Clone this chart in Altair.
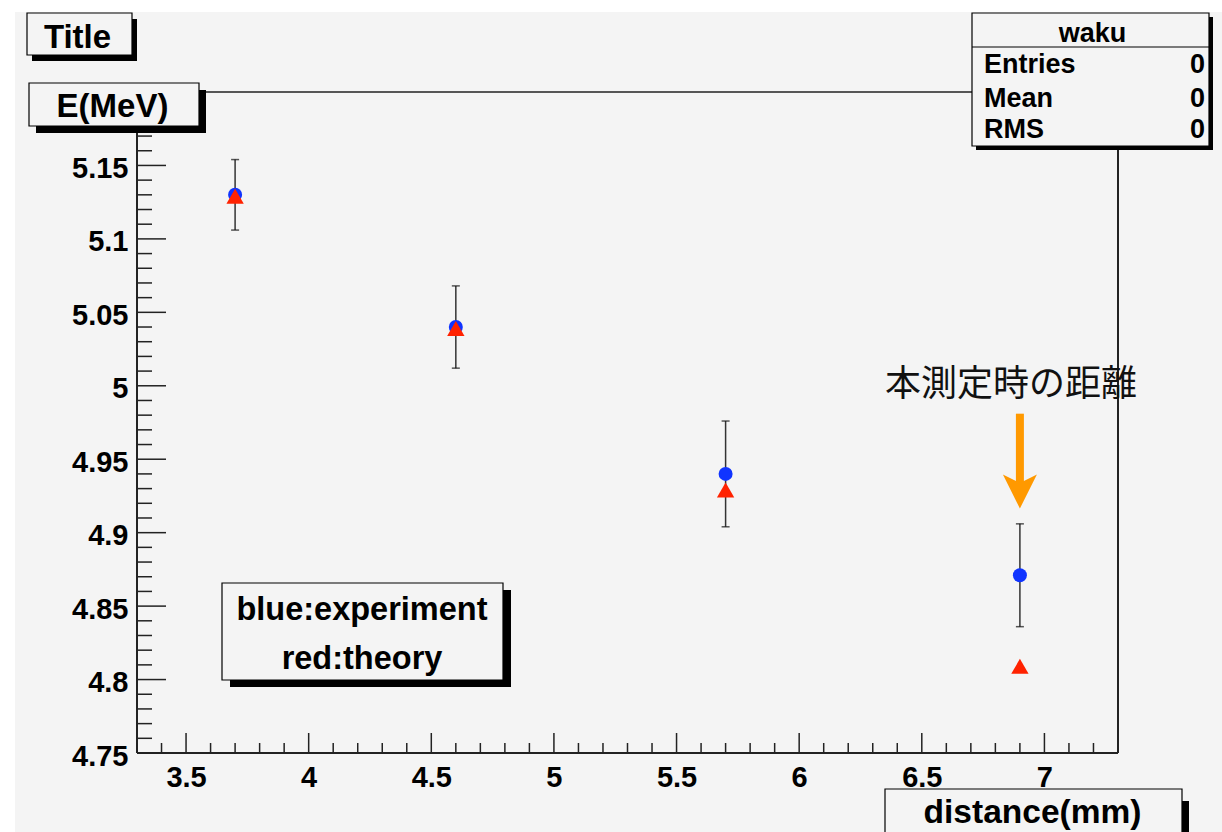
import altair as alt
import pandas as pd

# ---- data ----
distance = [3.7, 4.6, 5.7, 6.9]
experiment = [5.130, 5.040, 4.940, 4.871]
exp_error = [0.024, 0.028, 0.036, 0.035]
theory = [5.129, 5.039, 4.929, 4.809]

x_major = [3.5, 4.0, 4.5, 5.0, 5.5, 6.0, 6.5, 7.0]
x_minor = [3.3, 3.4, 3.6, 3.7, 3.8, 3.9, 4.1, 4.2, 4.3, 4.4, 4.6, 4.7, 4.8, 4.9,
           5.1, 5.2, 5.3, 5.4, 5.6, 5.7, 5.8, 5.9, 6.1, 6.2, 6.3, 6.4, 6.6, 6.7,
           6.8, 6.9, 7.1, 7.2]
y_major = [4.75, 4.8, 4.85, 4.9, 4.95, 5.0, 5.05, 5.1, 5.15]
y_minor = [4.76, 4.77, 4.78, 4.79, 4.81, 4.82, 4.83, 4.84, 4.86, 4.87, 4.88, 4.89,
           4.91, 4.92, 4.93, 4.94, 4.96, 4.97, 4.98, 4.99, 5.01, 5.02, 5.03, 5.04,
           5.06, 5.07, 5.08, 5.09, 5.11, 5.12, 5.13, 5.14, 5.16, 5.17, 5.18, 5.19]

# annotation arrow (data coordinates)
arrow_x = [6.9]
arrow_top = [4.981]
arrow_bottom = [4.930]
arrow_head = [4.928]

W, H = 981, 661
FONT = "Liberation Sans"
BG = "#f4f4f4"
LINE = "#222222"

df = pd.DataFrame({"x": distance, "exp": experiment, "err": exp_error, "th": theory})
df["lo"] = df["exp"] - df["err"]
df["hi"] = df["exp"] + df["err"]
arrow_df = pd.DataFrame({"x": arrow_x, "top": arrow_top, "bottom": arrow_bottom, "head": arrow_head})
one = pd.DataFrame({"k": [0]})

xscale = alt.Scale(domain=[3.3, 7.3], nice=False, zero=False)
yscale = alt.Scale(domain=[4.75, 5.2], nice=False, zero=False)
xaxis = alt.Axis(values=x_major, format="~g", ticks=False, tickSize=0, domain=False, grid=False,
                 labelFont=FONT, labelFontWeight="bold", labelFontSize=29, labelColor="#000",
                 labelPadding=10, labelOverlap=False, labelFlush=False, title=None, zindex=2)
yaxis = alt.Axis(values=y_major, format="~g", ticks=False, tickSize=0, domain=False, grid=False,
                 labelFont=FONT, labelFontWeight="bold", labelFontSize=29, labelColor="#000",
                 labelPadding=9, labelOffset=3, labelOverlap=False, labelFlush=False, title=None,
                 zindex=2)


def X(f):
    return alt.X(f, type="quantitative", scale=xscale, axis=xaxis)


def Y(f):
    return alt.Y(f, type="quantitative", scale=yscale, axis=yaxis)


def prect(x0, x1, y0, y1, fill, stroke=None, sw=0):
    kw = dict(fill=fill)
    if stroke:
        kw.update(stroke=stroke, strokeWidth=sw)
    return alt.Chart(one).mark_rect(**kw).encode(
        x=alt.value(x0), x2=alt.value(x1), y=alt.value(y0), y2=alt.value(y1))


def pline(x0, x1, y0, y1, color=LINE, sw=2):
    return alt.Chart(one).mark_rule(color=color, strokeWidth=sw).encode(
        x=alt.value(x0), x2=alt.value(x1), y=alt.value(y0), y2=alt.value(y1))


def ptext(t, x, y, size, align="center", weight="bold", font=FONT, color="#000"):
    return alt.Chart(one).mark_text(text=t, font=font, fontSize=size, fontWeight=weight,
                                    align=align, baseline="alphabetic", color=color).encode(
        x=alt.value(x), y=alt.value(y))


def box(x0, x1, y0, y1, dx, dy):
    return [prect(x0 + dx, x1 + dx, y0 + dy, y1 + dy, "#000"),
            prect(x0, x1, y0, y1, BG, "#000", 1.2)]


layers = []
# canvas background
layers.append(prect(-122, W + 104, -80, H + 79, BG))
# frame
layers += [pline(0, W, H, H), pline(0, 0, 0, H), pline(0, W, 0, 0, sw=1.5), pline(W, W, 0, H)]

# ticks (inward)
tx_major = pd.DataFrame({"v": x_major})
tx_minor = pd.DataFrame({"v": x_minor})
ty_major = pd.DataFrame({"v": y_major})
ty_minor = pd.DataFrame({"v": y_minor})
layers.append(alt.Chart(tx_major).mark_rule(color=LINE, strokeWidth=1.5).encode(
    x=X("v"), y=alt.value(H), y2=alt.value(H - 20)))
layers.append(alt.Chart(tx_minor).mark_rule(color=LINE, strokeWidth=1.5).encode(
    x=X("v"), y=alt.value(H), y2=alt.value(H - 10)))
layers.append(alt.Chart(ty_major).mark_rule(color=LINE, strokeWidth=1.5).encode(
    y=Y("v"), x=alt.value(0), x2=alt.value(29)))
layers.append(alt.Chart(ty_minor).mark_rule(color=LINE, strokeWidth=1.5).encode(
    y=Y("v"), x=alt.value(0), x2=alt.value(15)))

# error bars
base = alt.Chart(df)
layers.append(base.mark_rule(color="#333333", strokeWidth=1.5).encode(x=X("x"), y=Y("lo"), y2="hi"))
layers.append(base.mark_tick(orient="horizontal", size=8, thickness=1.5, color="#111111").encode(
    x=X("x"), y=Y("lo")))
layers.append(base.mark_tick(orient="horizontal", size=8, thickness=1.5, color="#111111").encode(
    x=X("x"), y=Y("hi")))
# points
layers.append(base.mark_point(shape="circle", filled=True, size=196, color="#1034ff", opacity=1,
                              strokeWidth=0).encode(x=X("x"), y=Y("exp")))
layers.append(base.mark_point(shape="triangle-up", filled=True, size=300, color="#ff2200", opacity=1,
                              strokeWidth=0).encode(x=X("x"), y=Y("th")))

# annotation arrow + text
abase = alt.Chart(arrow_df)
layers.append(abase.mark_rule(color="#ff9900", strokeWidth=8, strokeCap="butt").encode(
    x=X("x"), y=Y("top"), y2="bottom"))
layers.append(abase.mark_point(shape="M0,1L-1,-1L0,-0.5L1,-1Z", filled=True, size=1156,
                               color="#ff9900", opacity=1, strokeWidth=0).encode(
    x=X("x"), y=Y("head")))
layers.append(ptext("本測定時の距離", 874, 304, 36, weight="normal", font="Noto Sans CJK JP",
                    color="#111111"))

# Title box
layers += box(-110, -5, -79, -37, 5, 6)
layers.append(ptext("Title", -59.5, -44, 33))
# E(MeV) box
layers += box(-108, 62, -9, 34, 7, 7)
layers.append(ptext("E(MeV)", -24.5, 25, 33))
# stats box
layers += box(835, 1072, -79, 54, 4, 4)
layers.append(pline(835, 1072, -45, -45, color="#000", sw=1.2))
layers.append(ptext("waku", 955.5, -50, 27))
for lab, yy in [("Entries", -19), ("Mean", 15), ("RMS", 46)]:
    layers.append(ptext(lab, 847, yy, 27, align="left"))
    layers.append(ptext("0", 1068, yy, 27, align="right"))
# legend box
layers += box(85, 366, 491, 588, 8, 7)
layers.append(ptext("blue:experiment", 225, 528, 32.5))
layers.append(ptext("red:theory", 225, 577, 32.5))
# x title box
layers += box(748, 1045, 697, 750, 7, 12)
layers.append(ptext("distance(mm)", 895.5, 731, 33.5))

chart = alt.layer(*layers).properties(
    width=W, height=H,
    padding={"left": 137, "top": 92, "right": 104, "bottom": 79},
    autosize=alt.AutoSizeParams(type="none"),
    background="#ffffff",
).configure_view(stroke=None)

chart.save("out.html", embed_options={"renderer": "svg", "actions": False})
